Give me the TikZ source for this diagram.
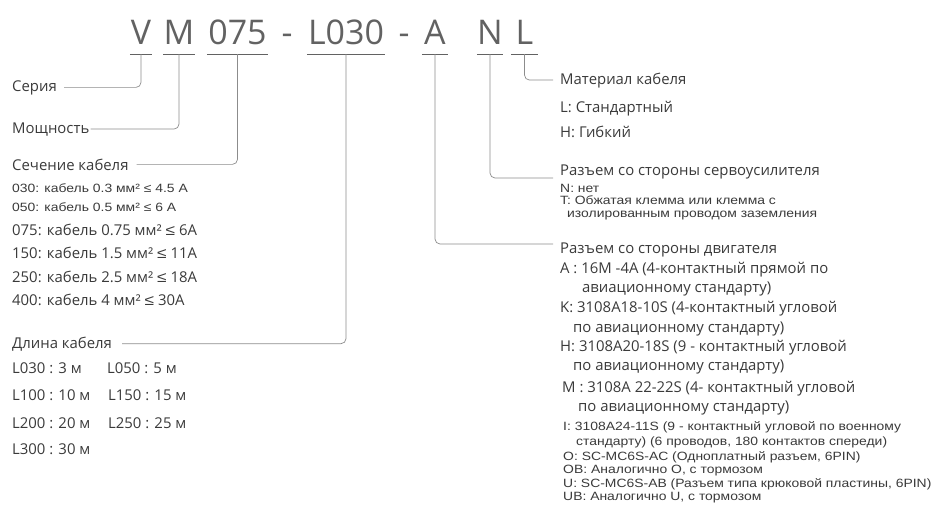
\documentclass[tikz,border=0pt]{standalone}
\usepackage{fontspec}
\setmainfont{Open Sans}
\newfontfamily\arialfont[FakeStretch=1.16]{Liberation Sans}
\usetikzlibrary{positioning}
\definecolor{txtgray}{HTML}{3A3A3A}
\definecolor{codegray}{HTML}{626262}
\definecolor{linegray}{HTML}{8C8C8C}

\tikzset{
  codepart/.style={font=\fontsize{34}{34}\selectfont, text=codegray, inner xsep=0pt,
    inner ysep=0pt, text depth=10pt, anchor=base, minimum width=#1},
  uline/.style={draw=codegray, line width=1pt},
  conn/.style={draw=linegray, line width=0.7pt, rounded corners=5pt},
  segtxt/.style={font=\fontsize{14.9}{16}\selectfont, text=txtgray, anchor=base west, inner sep=0pt},
  arltxt/.style={font=\arialfont\fontsize{12}{14}\selectfont, text=txtgray, anchor=base west, inner sep=0pt},
}

\begin{document}
\begin{tikzpicture}[x=1pt,y=-1pt]
\useasboundingbox (0,0) rectangle (939,514);

% code string
\node[codepart=22pt] (codeV) at (141,44) {V};
\node[codepart=28pt] (codeM) at (179,44) {M};
\node[codepart=61pt] (code075) at (237.5,44) {075};
\node[codepart=0pt] (dashA) at (287,44) {-};
\node[codepart=78pt] (codeL030) at (346,44) {L030};
\node[codepart=0pt] (dashB) at (404,44) {-};
\node[codepart=26pt] (codeA) at (435,44) {A};
\node[codepart=26pt] (codeN) at (490,44) {N};
\node[codepart=27pt] (codeL) at (524.5,44) {L};
\foreach \c in {codeV,codeM,code075,codeL030,codeA,codeN,codeL}
  \draw[uline] (\c.south west) -- (\c.south east);

% left column
\node[segtxt] (serie) at (12,91) {Серия};
\node[segtxt] (power) at (12,133) {Мощность};
\node[segtxt] (sect) at (12,170) {Сечение кабеля};
\node[arltxt] (sect030) at (12,192) {030: кабель 0.3 мм² ≤ 4.5 A};
\node[arltxt] (sect050) at (12,211) {050: кабель 0.5 мм² ≤ 6 A};
\node[segtxt] (sect075) at (12,235) {075: кабель 0.75 мм² {\arialfont≤} 6A};
\node[segtxt] (sect150) at (12,258) {150: кабель 1.5 мм² {\arialfont≤} 11A};
\node[segtxt] (sect250) at (12,282) {250: кабель 2.5 мм² {\arialfont≤} 18A};
\node[segtxt] (sect400) at (12,305) {400: кабель 4 мм² {\arialfont≤} 30A};
\node[segtxt] (len) at (12,348) {Длина кабеля};
\node[segtxt] (len030) at (12,373) {L030 : 3 м};
\node[segtxt] (len050) at (107,373) {L050 : 5 м};
\node[segtxt] (len100) at (12,400) {L100 : 10 м};
\node[segtxt] (len150) at (108,400) {L150 : 15 м};
\node[segtxt] (len200) at (12,428) {L200 : 20 м};
\node[segtxt] (len250) at (108,428) {L250 : 25 м};
\node[segtxt] (len300) at (12,454) {L300 : 30 м};

% right column
\node[segtxt] (mat) at (560,84) {Материал кабеля};
\node[segtxt] (matL) at (560,112) {L: Стандартный};
\node[segtxt] (matH) at (560,137) {H: Гибкий};
\node[segtxt] (srv) at (560,175) {Разъем со стороны сервоусилителя};
\node[arltxt] (srvN) at (560,192) {N: нет};
\node[arltxt] (srvT) at (560,204) {T: Обжатая клемма или клемма с};
\node[arltxt] (srvT2) at (567,217) {изолированным проводом заземления};
\node[segtxt] (mot) at (560,253) {Разъем со стороны двигателя};
\node[segtxt] (motA) at (560,273) {A : 16M -4A (4-контактный прямой по};
\node[segtxt] (motA2) at (582,292) {авиационному стандарту)};
\node[segtxt] (motK) at (560,312) {K: 3108A18-10S (4-контактный угловой};
\node[segtxt] (motK2) at (573,332) {по авиационному стандарту)};
\node[segtxt] (motH) at (560,351) {H: 3108A20-18S (9 - контактный угловой};
\node[segtxt] (motH2) at (573,370) {по авиационному стандарту)};
\node[segtxt] (motM) at (562,392) {M : 3108A 22-22S (4- контактный угловой};
\node[segtxt] (motM2) at (578,411) {по авиационному стандарту)};
\node[arltxt] (motI) at (563,430) {I: 3108A24-11S (9 - контактный угловой по военному};
\node[arltxt] (motI2) at (576,445) {стандарту) (6 проводов, 180 контактов спереди)};
\node[arltxt] (motO) at (563,460) {O: SC-MC6S-AC (Одноплатный разъем, 6PIN)};
\node[arltxt] (motOB) at (563,473) {OB: Аналогично O, с тормозом};
\node[arltxt] (motU) at (563,487) {U: SC-MC6S-AB (Разъем типа крюковой пластины, 6PIN)};
\node[arltxt] (motUB) at (563,500) {UB: Аналогично U, с тормозом};

\coordinate (srvjoin) at (553,178);
\coordinate (motjoin) at (553,244);

% connectors
\draw[conn] (codeV.south) |- ([xshift=7pt]serie.east);
\draw[conn] (codeM.south) |- ([xshift=1pt]power.east);
\draw[conn] (code075.south) |- ([xshift=8pt]sect.east);
\draw[conn] (codeL030.south) |- ([xshift=10pt]len.east);
\draw[conn] (codeA.south) |- (motjoin);
\draw[conn] (codeN.south) |- (srvjoin);
\draw[conn] (codeL.south) |- ([xshift=-7pt]mat.west);
\end{tikzpicture}
\end{document}
